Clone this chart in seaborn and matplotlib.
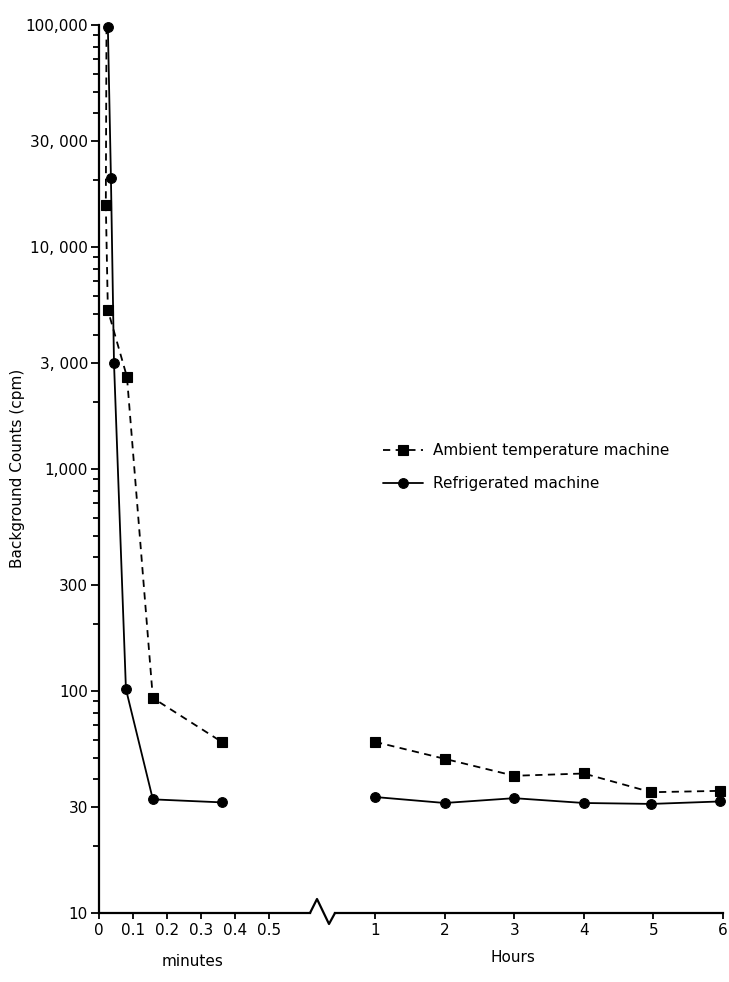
import matplotlib
matplotlib.use('Agg')
import matplotlib.pyplot as plt
import seaborn as sns
from matplotlib.lines import Line2D
from matplotlib.ticker import FixedLocator, NullFormatter

# values
# first part of the time axis is in minutes
ambient_min_t = [0.022, 0.020, 0.026, 0.082, 0.158, 0.360]
ambient_min_cpm = [98000, 15500, 5200, 2600, 93, 59]
refrig_min_t = [0.026, 0.035, 0.044, 0.079, 0.158, 0.360]
refrig_min_cpm = [98000, 20500, 3000, 102, 32.5, 31.5]

# second part is in hours
hours = [1, 2, 3, 4, 4.97, 5.96]
ambient_hr_cpm = [59, 49.5, 41.5, 42.5, 35, 35.5]
refrig_hr_cpm = [33.3, 31.3, 32.9, 31.3, 31, 31.8]

y_ticks = [10, 30, 100, 300, 1000, 3000, 10000, 30000, 100000]
y_labels = ['10', '30', '100', '300', '1,000', '3, 000', '10, 000', '30, 000', '100,000']
min_ticks = [0, 0.1, 0.2, 0.3, 0.4, 0.5]
min_labels = ['0', '0.1', '0.2', '0.3', '0.4', '0.5']
hr_ticks = [1, 2, 3, 4, 5, 6]

sns.set_style('ticks')
plt.rcParams['font.family'] = ['DejaVu Sans']
plt.rcParams.update({'text.color': 'black', 'axes.labelcolor': 'black',
                     'xtick.color': 'black', 'ytick.color': 'black',
                     'axes.edgecolor': 'black'})

W, H = 729, 982
fig = plt.figure(figsize=(W / 100, H / 100), dpi=100)

# pixel helpers for placing the two axes
def fx(px):
    return px / W

def fy(py):
    return 1 - py / H

bottom, top = fy(913), fy(25)
ax1 = fig.add_axes([fx(99), bottom, fx(310) - fx(99), top - bottom])
ax2 = fig.add_axes([fx(335), bottom, fx(723) - fx(335), top - bottom], sharey=ax1)

line_kw = dict(color='black', linewidth=1.3, estimator=None, sort=False, clip_on=False,
               markeredgecolor='black', markeredgewidth=0.8)

for ax, xa, ya, xr, yr, every in [(ax1, ambient_min_t, ambient_min_cpm, refrig_min_t, refrig_min_cpm, [1, 2, 3, 4, 5]),
                                  (ax2, hours, ambient_hr_cpm, hours, refrig_hr_cpm, None)]:
    # the first ambient point sits under the refrigerated circle, so no square there
    sns.lineplot(x=xa, y=ya, ax=ax, marker='s', markersize=6.5, dashes=False, markevery=every,
                 linestyle=(0, (4, 3)), label='Ambient temperature machine', **line_kw)
    sns.lineplot(x=xr, y=yr, ax=ax, marker='o', markersize=7, linestyle='-',
                 label='Refrigerated machine', **line_kw)

for ax in (ax1, ax2):
    ax.set_yscale('log')
    ax.set_ylim(10, 100000)
    ax.set_xlabel('')
    ax.set_ylabel('')
    ax.get_legend().remove()
    for s in ('top', 'right'):
        ax.spines[s].set_visible(False)
    ax.spines['bottom'].set_linewidth(1.6)
    ax.tick_params(axis='x', direction='out', length=4, width=1.3, labelsize=11, pad=3)

ax1.set_xlim(0, 0.619)
ax1.set_xticks(min_ticks)
ax1.set_xticklabels(min_labels)
ax1.yaxis.set_major_locator(FixedLocator(y_ticks))
ax1.set_yticklabels(y_labels)
minor = [m * 10 ** e for e in range(1, 5) for m in (2, 4, 5, 6, 7, 8, 9)]
ax1.yaxis.set_minor_locator(FixedLocator(minor))
ax1.yaxis.set_minor_formatter(NullFormatter())
ax1.spines['left'].set_linewidth(1.6)
ax1.tick_params(axis='y', which='major', direction='out', length=6, width=1.3, labelsize=11, pad=2)
ax1.tick_params(axis='y', which='minor', direction='out', length=4, width=1.3)

ax2.set_xlim(0.425, 6.0)
ax2.set_xticks(hr_ticks)
ax2.spines['left'].set_visible(False)
ax2.tick_params(axis='y', which='both', left=False, labelleft=False)

# zig-zag break mark between the two parts of the time axis
zx = [310, 317, 329, 335]
zy = [913, 899, 924, 913]
fig.add_artist(Line2D([fx(v) for v in zx], [fy(v) for v in zy], color='black', linewidth=1.6))

fig.text(fx(193), fy(962), 'minutes', ha='center', va='center', fontsize=11)
fig.text(fx(513), fy(958), 'Hours', ha='center', va='center', fontsize=11)
fig.text(fx(18), fy(468), 'Background Counts (cpm)', rotation=90, ha='center', va='center', fontsize=11)

handles, labels = ax1.get_legend_handles_labels()
fig.legend(handles, labels, loc='upper left', bbox_to_anchor=(fx(383), fy(443)),
           frameon=False, fontsize=11, handlelength=2.6, handletextpad=0.7,
           labelspacing=1.2, borderpad=0, borderaxespad=0)

fig.savefig('out.png', dpi=100)
